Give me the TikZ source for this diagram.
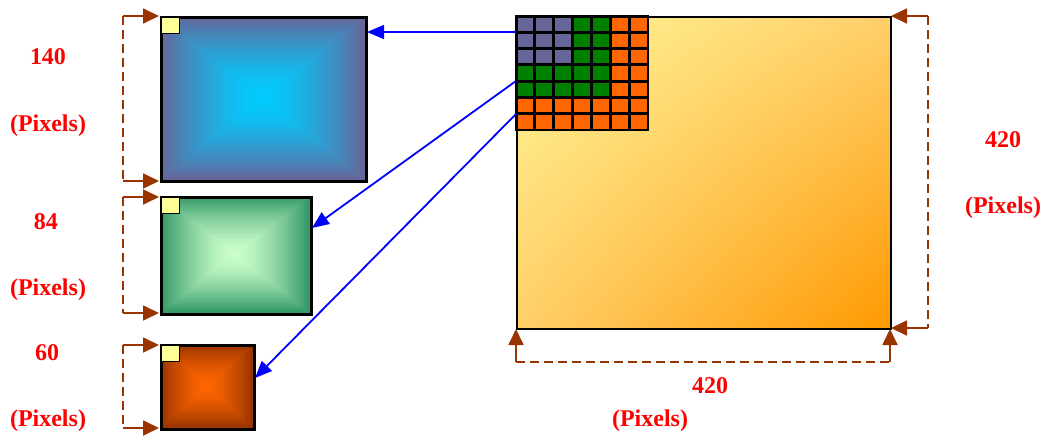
\documentclass[tikz,border=0pt]{standalone}
\usepackage{fontspec}
\setmainfont{Liberation Serif}
\usetikzlibrary{arrows.meta,calc,shadings}
\definecolor{dimc}{HTML}{993300}
\definecolor{lblred}{HTML}{FF0000}
\definecolor{gpurple}{HTML}{666699}
\definecolor{ggreen}{HTML}{007F00}
\definecolor{gorange}{HTML}{FF6600}
\definecolor{noteyel}{HTML}{FFFF99}
\definecolor{aO}{HTML}{666699}\definecolor{aI}{HTML}{00CCFF}
\definecolor{bO}{HTML}{339966}\definecolor{bI}{HTML}{CCFFCC}
\definecolor{cO}{HTML}{993300}\definecolor{cI}{HTML}{FF6600}
\definecolor{bigTL}{HTML}{FFF799}
\definecolor{bigBR}{HTML}{FF9900}
\definecolor{bigMid}{HTML}{FFCF6A}
\definecolor{arrblue}{HTML}{0000FF}
\newcommand\pyrfill[6]{%
  \foreach \i in {0,...,40}{%
    \pgfmathsetmacro\tt{\i/40}%
    \pgfmathtruncatemacro\pp{100*(1-(1-\tt)^1.5)}%
    \fill[#6!\pp!#5] ({#1+(#3-#1)*\tt/2},{#2+(#4-#2)*\tt/2}) rectangle ({#3-(#3-#1)*\tt/2},{#4-(#4-#2)*\tt/2});
  }}
\tikzset{
  imgbox/.style={draw=black, line width=3.2pt, inner sep=0pt, anchor=north west},
  dimdash/.style={draw=dimc, line width=1.8pt, dash pattern=on 9pt off 5pt},
  dimarrow/.style={draw=dimc, line width=1.8pt, -{Triangle[length=16pt,width=15pt]}, dimc},
  bluearrow/.style={draw=arrblue, line width=1.8pt, -{Triangle[length=17pt,width=14pt]}},
  lbl/.style={text=lblred, font=\bfseries\fontsize{24}{28}\selectfont, inner sep=0pt},
  notesq/.style={fill=noteyel, draw=black, line width=1pt},
  cell/.style={draw=black, line width=2.8pt}
}
\begin{document}
\begin{tikzpicture}[x=1pt,y=-1pt]
\useasboundingbox (0,0) rectangle (1047,437);
% shadings
\pyrfill{160}{16}{365}{180}{aO}{aI}
\pyrfill{160}{196}{310}{313}{bO}{bI}
\pyrfill{160}{344}{253}{428}{cO}{cI}
\shade[upper left=bigTL, lower right=bigBR, upper right=bigMid, lower left=bigMid] (516,16) rectangle (890,328);
% grid
\foreach \c in {0,...,6}{
  \foreach \r in {0,...,6}{
    \pgfmathtruncatemacro\kind{(\c<3 && \r<3) ? 0 : ((\c<5 && \r<5) ? 1 : 2)}
    \ifcase\kind \def\cc{gpurple}\or \def\cc{ggreen}\else \def\cc{gorange}\fi
    \filldraw[cell, fill=\cc] ({516+\c*18.857},{16+\r*16.286}) rectangle ({516+(\c+1)*18.857},{16+(\r+1)*16.286});
  }
}
% boxes
\node[imgbox, minimum width=205pt, minimum height=164pt] (b1) at (160,16) {};
\node[imgbox, minimum width=150pt, minimum height=117pt] (b2) at (160,196) {};
\node[imgbox, minimum width=93pt, minimum height=84pt] (b3) at (160,344) {};
\node[draw=black, line width=1.6pt, inner sep=0pt, anchor=north west, minimum width=374pt, minimum height=312pt] (big) at (516,16) {};
% note squares
\filldraw[notesq] (161,17) rectangle (179,33);
\filldraw[notesq] (161,197) rectangle (179,213);
\filldraw[notesq] (161,345) rectangle (179,361);
% blue arrows
\coordinate (g1) at (516,32);
\coordinate (g2) at (516,81);
\coordinate (g3) at (516,114);
\coordinate (e1) at (367,32);
\coordinate (e2) at (312,228);
\coordinate (e3) at (255,378);
\draw[bluearrow] (g1) -- (e1);
\draw[bluearrow] (g2) -- (e2);
\draw[bluearrow] (g3) -- (e3);
% left dimension lines
\coordinate (d1t) at (123,16); \coordinate (d1b) at (123,181);
\coordinate (d2t) at (123,197); \coordinate (d2b) at (123,313);
\coordinate (d3t) at (123,345); \coordinate (d3b) at (123,428);
\draw[dimdash] (d1t) -- (d1b);
\draw[dimdash] (d2t) -- (d2b);
\draw[dimdash] (d3t) -- (d3b);
\draw[dimarrow] (d1t) -- (159,16);
\draw[dimarrow] (d1b) -- (159,181);
\draw[dimarrow] (d2t) -- (159,197);
\draw[dimarrow] (d2b) -- (159,313);
\draw[dimarrow] (d3t) -- (159,345);
\draw[dimarrow] (d3b) -- (159,428);
% right dimension
\coordinate (rt) at (928,16); \coordinate (rb) at (928,328);
\draw[dimdash] (rt) -- (rb);
\draw[dimarrow] (rt) -- (891,16);
\draw[dimarrow] (rb) -- (891,328);
% bottom dimension
\coordinate (bl) at (516,362); \coordinate (br) at (890,362);
\draw[dimdash] (bl) -- (br);
\draw[dimarrow] (bl) -- (516,329);
\draw[dimarrow] (br) -- (890,329);
% labels
\node[lbl] (t1) at (48,57) {140};
\node[lbl] (p1) at (48,126) {(Pixels)};
\node[lbl] (t2) at (46,222) {84};
\node[lbl] (p2) at (48,290) {(Pixels)};
\node[lbl] (t3) at (47,353) {60};
\node[lbl] (p3) at (48,421) {(Pixels)};
\node[lbl] (t4) at (1003,140) {420};
\node[lbl] (p4) at (1003,208) {(Pixels)};
\node[lbl] (t5) at (710,386) {420};
\node[lbl] (p5) at (650,421) {(Pixels)};
\end{tikzpicture}
\end{document}
